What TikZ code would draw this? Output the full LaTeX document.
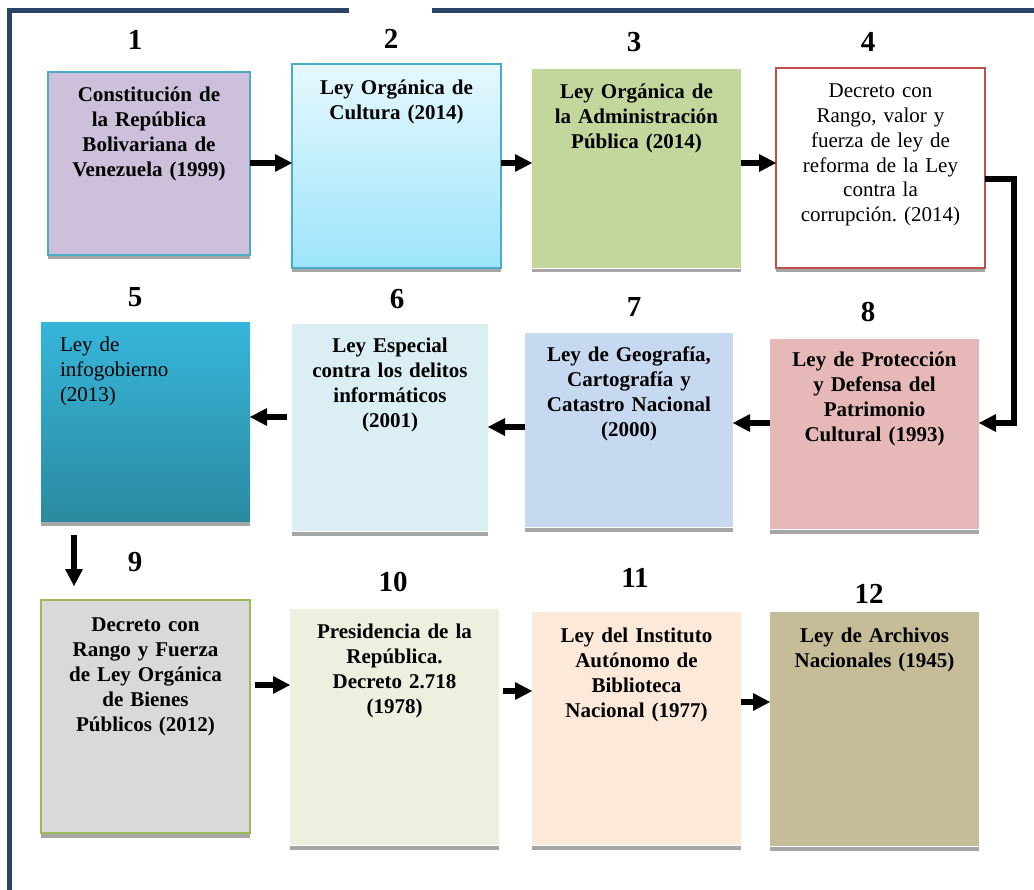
\documentclass[tikz,border=0pt]{standalone}
\usepackage{fontspec}
\setmainfont{Liberation Serif}
\usetikzlibrary{arrows.meta}
\definecolor{navy}{HTML}{2A4468}
\definecolor{teal}{HTML}{4BACC6}
\definecolor{shadowgray}{HTML}{A6A6A6}
\definecolor{c1}{HTML}{CCC0DA}
\definecolor{c2top}{HTML}{E6F8FE}
\definecolor{c2bot}{HTML}{9CE4FA}
\definecolor{c3}{HTML}{C3D69B}
\definecolor{redb}{HTML}{C0504D}
\definecolor{c5top}{HTML}{37B5DA}
\definecolor{c5bot}{HTML}{2A8AA0}
\definecolor{c6}{HTML}{DBEEF4}
\definecolor{c7}{HTML}{C6D9F1}
\definecolor{c8}{HTML}{E6B8B7}
\definecolor{c9}{HTML}{D9D9D9}
\definecolor{greenb}{HTML}{9BBB59}
\definecolor{c10}{HTML}{EBF1DE}
\definecolor{c11}{HTML}{FDE9D9}
\definecolor{c12}{HTML}{C4BD97}
\begin{document}
\begin{tikzpicture}[x=1pt,y=-1pt,
  box/.style={rectangle, inner sep=0pt, outer sep=0pt},
  txt/.style={inner sep=0pt, outer sep=0pt, text width=200pt, align=center, anchor=base, font=\fontsize{21}{25}\selectfont\bfseries},
  rtxt/.style={inner sep=0pt, outer sep=0pt, text width=200pt, align=center, anchor=base, font=\fontsize{21}{24.7}\selectfont},
  num/.style={inner sep=0pt, anchor=base, font=\fontsize{29}{30}\selectfont\bfseries},
  arr/.style={line width=5.5pt, -{Triangle[length=17pt,width=18pt,line width=0pt]}},
  shadowbar/.style={fill=shadowgray}]
\useasboundingbox (0,0) rectangle (1034,890);
% frame
\draw[navy, line width=5pt] (9.5,890) -- (9.5,10.5) -- (349,10.5);
\draw[navy, line width=5pt] (432,10.5) -- (1034,10.5);

% shadows are drawn under the boxes
% row 1
\node[box, fill=c1, draw=teal, line width=1.5pt, minimum width=202pt, minimum height=183pt] (b1) at (149,163.5) {};
\node[box, top color=c2top, bottom color=c2bot, draw=teal, line width=1.5pt, minimum width=209pt, minimum height=204pt] (b2) at (396.5,166) {};
\node[box, fill=c3, minimum width=209pt, minimum height=199pt] (b3) at (636.5,168.5) {};
\node[box, fill=white, draw=redb, line width=1.5pt, minimum width=209pt, minimum height=200pt] (b4) at (880.5,168) {};
% row 2
\node[box, top color=c5top, bottom color=c5bot, minimum width=209pt, minimum height=198pt] (b5) at (145.5,422) {};
\node[box, fill=c6, minimum width=196pt, minimum height=207pt] (b6) at (390,427.5) {};
\node[box, fill=c7, minimum width=208pt, minimum height=194pt] (b7) at (629,430) {};
\node[box, fill=c8, minimum width=209pt, minimum height=190pt] (b8) at (874.5,434) {};
% row 3
\node[box, fill=c9, draw=greenb, line width=1.5pt, minimum width=209pt, minimum height=233pt] (b9) at (145.5,716.5) {};
\node[box, fill=c10, minimum width=209pt, minimum height=236pt] (b10) at (394.5,727) {};
\node[box, fill=c11, minimum width=209pt, minimum height=233pt] (b11) at (636.5,728.5) {};
\node[box, fill=c12, minimum width=209pt, minimum height=234pt] (b12) at (874.5,729) {};

% shadows
\foreach \b in {b1,b2,b3,b4,b5,b6,b7,b8,b9,b10,b11,b12}{
  \fill[shadowbar] ([yshift=-0.8pt]\b.south west) rectangle ([yshift=-4.5pt]\b.south east);
}

% numbers
\node[num] (n1) at (135,50) {1};
\node[num] (n2) at (391,49) {2};
\node[num] (n3) at (634,52) {3};
\node[num] (n4) at (868,52) {4};
\node[num] (n5) at (135,307) {5};
\node[num] (n6) at (397,309) {6};
\node[num] (n7) at (634,317) {7};
\node[num] (n8) at (868,322) {8};
\node[num] (n9) at (135,571) {9};
\node[num] (n10) at (393,591) {10};
\node[num] (n11) at (635,587) {11};
\node[num] (n12) at (869,603) {12};

% texts
\node[txt] (t1) at (149,102) {Constitución de\\la República\\Bolivariana de\\Venezuela (1999)};
\node[txt] (t2) at (396.5,95) {Ley Orgánica de\\Cultura (2014)};
\node[txt] (t3) at (636.5,99) {Ley Orgánica de\\la Administración\\Pública (2014)};
\node[rtxt] (t4) at (880.5,98) {Decreto con\\Rango, valor y\\fuerza de ley de\\reforma de la Ley\\contra la\\corrupción.\ (2014)};
\node[rtxt, align=left, anchor=base west, text width=180pt] (t5) at (60,352) {Ley de\\infogobierno\\(2013)};
\node[txt] (t6) at (390,353) {Ley Especial\\contra los delitos\\informáticos\\(2001)};
\node[txt] (t7) at (629,362) {Ley de Geografía,\\Cartografía y\\Catastro Nacional\\(2000)};
\node[txt] (t8) at (874.5,367) {Ley de Protección\\y Defensa del\\Patrimonio\\Cultural (1993)};
\node[txt] (t9) at (145.5,631) {Decreto con\\Rango y Fuerza\\de Ley Orgánica\\de Bienes\\Públicos (2012)};
\node[txt] (t10) at (394.5,638) {Presidencia de la\\República.\\Decreto 2.718\\(1978)};
\node[txt] (t11) at (636.5,642) {Ley del Instituto\\Autónomo de\\Biblioteca\\Nacional (1977)};
\node[txt] (t12) at (874.5,642) {Ley de Archivos\\Nacionales (1945)};

% connectors
\draw[arr] (b1.east |- 0,163) -- (b2.west |- 0,163);
\draw[arr] (b2.east |- 0,163) -- (b3.west |- 0,163);
\draw[arr] (b3.east |- 0,163) -- (b4.west |- 0,163);
\coordinate (c48) at (1014,300);
\draw[arr, line join=miter] (b4.east |- 0,179) -| (c48) |- (b8.east |- 0,423);
\draw[arr] (b8.west |- 0,423) -- (b7.east |- 0,423);
\draw[arr] (b7.west |- 0,427) -- (b6.east |- 0,427);
\draw[arr, shorten <=5pt] (b6.west |- 0,417) -- (b5.east |- 0,417);
\draw[arr, shorten <=14pt, shorten >=14pt] (b5.south -| 74,0) -- (b9.north -| 74,0);
\draw[arr, shorten <=5pt] (b9.east |- 0,685) -- (b10.west |- 0,685);
\draw[arr, shorten <=4pt] (b10.east |- 0,691) -- (b11.west |- 0,691);
\draw[arr] (b11.east |- 0,702) -- (b12.west |- 0,702);
\end{tikzpicture}
\end{document}
